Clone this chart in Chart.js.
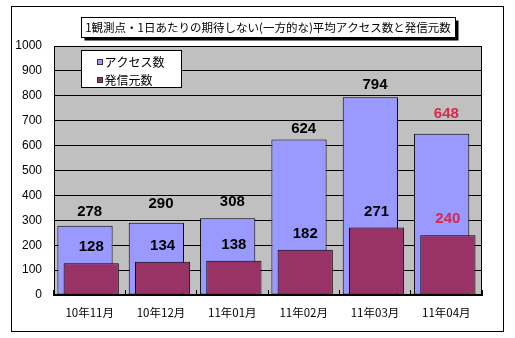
<!DOCTYPE html>
<html>
<head>
<meta charset="utf-8">
<script src="https://cdn.jsdelivr.net/npm/chart.js@4/dist/chart.umd.min.js"></script>
<style>
  html, body { margin: 0; padding: 0; background: #fff; }
  #c { display: block; }
</style>
</head>
<body>
<canvas id="c" width="515" height="338"></canvas>
<script>
// ---- chart data ----
const TITLE = '1観測点・1日あたりの期待しない(一方的な)平均アクセス数と発信元数';
const months = ['10年11月', '10年12月', '11年01月', '11年02月', '11年03月', '11年04月'];
const accessCounts = [278, 290, 308, 624, 794, 648];
const sourceCounts = [128, 134, 138, 182, 271, 240];
const seriesNames = ['アクセス数', '発信元数'];
const yMin = 0, yMax = 1000, yStep = 100;

// ---- styling ----
const ACCESS_COLOR = '#9999ff';
const SOURCE_COLOR = '#993366';
const PLOT_BG = '#c0c0c0';
const LABEL_COLORS = ['#000', '#000', '#000', '#000', '#000', '#d42a4c'];
const ACCESS_LABEL_LIFT = [14, 19, 16, 11, 12, 20];   // px above bar top
const SOURCE_LABEL_LIFT = 16;
const JP_FONT = '"Noto Sans CJK JP", "Noto Sans", sans-serif';
const NUM_FONT = '"Liberation Sans", Arial, sans-serif';

// white page, outer frame and grey plot area
const framePlugin = {
  id: 'frame',
  beforeDraw(chart) {
    const { ctx, chartArea: a } = chart;
    ctx.save();
    ctx.fillStyle = '#fff';
    ctx.fillRect(0, 0, chart.width, chart.height);
    ctx.strokeStyle = '#000';
    ctx.lineWidth = 1;
    ctx.strokeRect(11.5, 6.5, chart.width - 23, chart.height - 13);
    ctx.fillStyle = PLOT_BG;
    ctx.fillRect(a.left, a.top, a.right - a.left, a.bottom - a.top);
    ctx.restore();
  },
  afterDatasetsDraw(chart) {
    const { ctx, chartArea: a } = chart;
    ctx.save();
    ctx.strokeStyle = '#000';
    ctx.lineWidth = 1;
    const l = Math.round(a.left) + 0.5, t = Math.round(a.top) + 0.5;
    const r = Math.round(a.right) - 0.5, b = Math.round(a.bottom) - 0.5;
    ctx.strokeRect(l, t, r - l, b - t);
    ctx.restore();
  }
};

// value labels above the bars
const valueLabels = {
  id: 'valueLabels',
  afterDatasetsDraw(chart) {
    const { ctx } = chart;
    const access = chart.getDatasetMeta(0);
    const source = chart.getDatasetMeta(3);
    const xs = chart.scales.x;
    ctx.save();
    ctx.font = 'bold 15px ' + NUM_FONT;
    ctx.textAlign = 'center';
    ctx.textBaseline = 'middle';
    accessCounts.forEach((v, i) => {
      const bar = access.data[i];
      ctx.fillStyle = LABEL_COLORS[i];
      ctx.fillText(String(v), xs.getPixelForValue(i), bar.y - ACCESS_LABEL_LIFT[i]);
    });
    sourceCounts.forEach((v, i) => {
      const bar = source.data[i];
      ctx.fillStyle = LABEL_COLORS[i];
      ctx.fillText(String(v), bar.x, bar.y - SOURCE_LABEL_LIFT);
    });
    ctx.restore();
  }
};

// boxed title with drop shadow, and boxed legend inside the plot
const boxes = {
  id: 'boxes',
  afterDraw(chart) {
    const { ctx, chartArea: a } = chart;
    ctx.save();
    // title
    ctx.font = '11.5px ' + JP_FONT;
    const tw = ctx.measureText(TITLE).width;
    const cx = (a.left + a.right) / 2;
    const bw = Math.round(tw + 8), bh = 20;
    const bx = Math.round(cx - bw / 2) + 0.5, by = 17.5;
    ctx.fillStyle = '#000';
    ctx.fillRect(bx + 3, by + 3, bw, bh);
    ctx.fillStyle = '#fff';
    ctx.fillRect(bx, by, bw, bh);
    ctx.strokeStyle = '#000';
    ctx.lineWidth = 1;
    ctx.strokeRect(bx, by, bw, bh);
    ctx.fillStyle = '#000';
    ctx.textAlign = 'center';
    ctx.textBaseline = 'middle';
    ctx.fillText(TITLE, cx, by + bh / 2 + 0.5);

    // legend
    ctx.font = '12px ' + JP_FONT;
    const colors = [ACCESS_COLOR, SOURCE_COLOR];
    const textW = Math.max(...seriesNames.map(s => ctx.measureText(s).width));
    const lx = Math.round(a.left) + 27.5, ly = Math.round(a.top) + 4.5;
    const lw = Math.round(24 + textW + 16), lh = 37;
    ctx.fillStyle = '#fff';
    ctx.fillRect(lx, ly, lw, lh);
    ctx.strokeRect(lx, ly, lw, lh);
    ctx.textAlign = 'left';
    seriesNames.forEach((name, i) => {
      const rowY = ly + 12 + i * 18;
      ctx.fillStyle = colors[i];
      ctx.fillRect(lx + 16, rowY - 3, 5, 5);
      ctx.strokeStyle = '#333';
      ctx.strokeRect(lx + 16, rowY - 3, 5, 5);
      ctx.fillStyle = '#000';
      ctx.fillText(name, lx + 23, rowY);
    });
    ctx.restore();
  }
};

const barStyle = {
  borderColor: '#000',
  borderWidth: 1,
  borderSkipped: false,
  categoryPercentage: 0.174,
  barPercentage: 17.8
};

new Chart(document.getElementById('c'), {
  type: 'bar',
  data: {
    labels: months,
    datasets: [
      Object.assign({ label: seriesNames[0], data: accessCounts, backgroundColor: ACCESS_COLOR,
        xAxisID: 'x', order: 2 }, barStyle),
      // empty companions: keep the two series in offset, overlapping slots
      { label: '', data: [], xAxisID: 'x', order: 3 },
      { label: '', data: [], xAxisID: 'x2', order: 0 },
      Object.assign({ label: seriesNames[1], data: sourceCounts, backgroundColor: SOURCE_COLOR,
        xAxisID: 'x2', order: 1 }, barStyle)
    ]
  },
  options: {
    responsive: false,
    animation: false,
    devicePixelRatio: 1,
    layout: { padding: { left: 11, top: 46, right: 33, bottom: 6 } },
    plugins: {
      legend: { display: false },
      title: { display: false },
      tooltip: { enabled: false }
    },
    scales: {
      x: {
        type: 'category',
        offset: true,
        grid: { display: true, offset: true, drawOnChartArea: false, drawTicks: true,
                tickLength: -5, color: '#000', lineWidth: 1 },
        border: { display: true, color: '#000', width: 1 },
        ticks: { color: '#000', padding: 16, maxRotation: 0, autoSkip: false,
                 font: { family: JP_FONT, size: 11.5 } },
        afterFit(s) { s.height = 37; }
      },
      x2: {
        type: 'category',
        position: 'bottom',
        offset: true,
        display: false
      },
      y: {
        min: yMin,
        max: yMax,
        grid: { color: '#000', lineWidth: 1, drawTicks: false },
        border: { display: true, color: '#000', width: 1 },
        ticks: { stepSize: yStep, color: '#000', padding: 12,
                 font: { family: NUM_FONT, size: 12 },
                 callback: v => String(v) },
        afterFit(s) { s.width = 43; }
      }
    }
  },
  plugins: [framePlugin, valueLabels, boxes]
});
</script>
</body>
</html>
